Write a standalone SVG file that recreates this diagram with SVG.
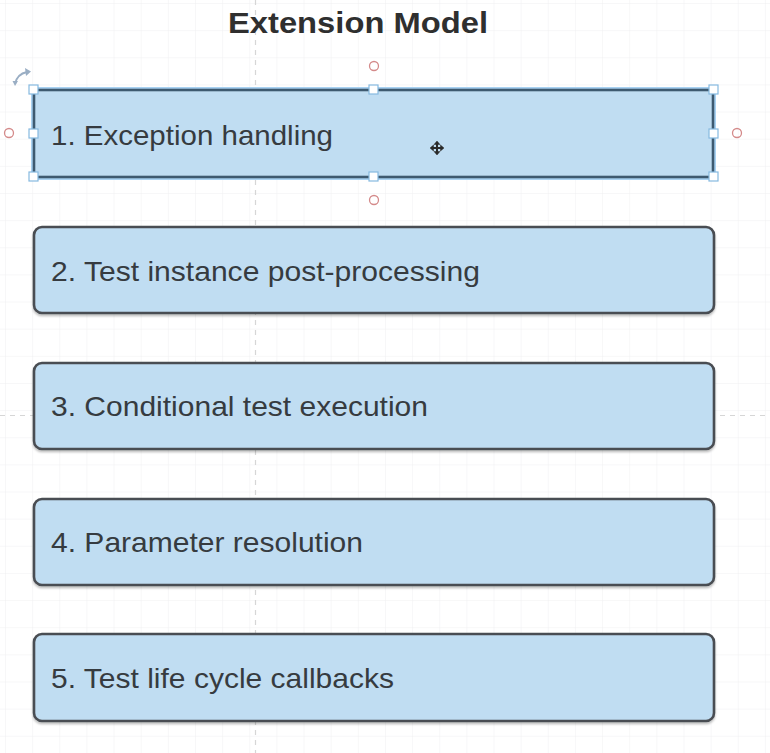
<svg xmlns="http://www.w3.org/2000/svg" width="770" height="753" viewBox="0 0 770 753">
  <style>
    .box { fill: #c0ddf2; stroke: #4a4d52; stroke-width: 2.6; filter: url(#shadow); }
    .label { font-family: "Liberation Sans", Arial, sans-serif; font-size: 28px; fill: #363b40; }
    .title { font-family: "Liberation Sans", Arial, sans-serif; font-size: 29px; font-weight: bold; fill: #2f2f2f; }
    .handle { fill: #ffffff; stroke: #86b9e0; stroke-width: 1.2; }
    .conn { fill: none; stroke: #d48a8a; stroke-width: 1.3; }
    .page { stroke: #d6d6d6; stroke-width: 1.2; stroke-dasharray: 5 5; fill: none; }
  </style>
  <defs>
    <pattern id="grid" x="5" y="3" width="27.14" height="27.14" patternUnits="userSpaceOnUse">
      <path d="M0 0 V27.14 M0 0 H27.14" fill="none" stroke="#efeff1" stroke-width="1"/>
    </pattern>
    <filter id="shadow" x="-5%" y="-10%" width="110%" height="130%">
      <feDropShadow dx="0" dy="2" stdDeviation="1.2" flood-color="#000" flood-opacity="0.25"/>
    </filter>
  </defs>

  <rect x="0" y="0" width="770" height="753" fill="#ffffff"/>
  <rect x="0" y="0" width="770" height="753" fill="url(#grid)"/>
  <path class="page" d="M255.5 0 V753"/>
  <path class="page" d="M0 415.5 H770"/>

  <g id="title">
    <text class="title" x="228" y="33" textLength="260" lengthAdjust="spacingAndGlyphs">Extension Model</text>
  </g>

  <g id="connectors"></g>

  <g id="node-2">
    <rect class="box" x="34" y="227" width="680" height="86" rx="8"/>
    <text class="label" x="51" y="281" textLength="429" lengthAdjust="spacingAndGlyphs">2. Test instance post-processing</text>
  </g>
  <g id="node-3">
    <rect class="box" x="34" y="363" width="680" height="86" rx="8"/>
    <text class="label" x="51" y="416" textLength="377" lengthAdjust="spacingAndGlyphs">3. Conditional test execution</text>
  </g>
  <g id="node-4">
    <rect class="box" x="34" y="499" width="680" height="86" rx="8"/>
    <text class="label" x="51" y="552" textLength="312" lengthAdjust="spacingAndGlyphs">4. Parameter resolution</text>
  </g>
  <g id="node-5">
    <rect class="box" x="34" y="634" width="680" height="87" rx="8"/>
    <text class="label" x="51" y="688" textLength="343" lengthAdjust="spacingAndGlyphs">5. Test life cycle callbacks</text>
  </g>

  <g id="node-1">
    <rect x="34" y="90" width="679" height="87" fill="none" stroke="#a9d2f2" stroke-width="6"/>
    <rect x="34" y="90" width="679" height="87" fill="#c0ddf2" stroke="#3e5a70" stroke-width="2.6"/>
    <text class="label" x="51" y="145" textLength="282" lengthAdjust="spacingAndGlyphs">1. Exception handling</text>
  </g>

  <g id="selection">
    <rect class="handle" x="29" y="85" width="9" height="9"/>
    <rect class="handle" x="369" y="85" width="9" height="9"/>
    <rect class="handle" x="709" y="85" width="9" height="9"/>
    <rect class="handle" x="29" y="129" width="9" height="9"/>
    <rect class="handle" x="709" y="129" width="9" height="9"/>
    <rect class="handle" x="29" y="172" width="9" height="9"/>
    <rect class="handle" x="369" y="172" width="9" height="9"/>
    <rect class="handle" x="709" y="172" width="9" height="9"/>
    <circle class="conn" cx="374" cy="66" r="4.5"/>
    <circle class="conn" cx="374" cy="200" r="4.5"/>
    <circle class="conn" cx="9" cy="133" r="4.5"/>
    <circle class="conn" cx="737" cy="133" r="4.5"/>
    <path d="M15 84 Q17 74 27 72" fill="none" stroke="#9aaec4" stroke-width="1.8"/>
    <path d="M25 68 L31 71.5 L26 76 Z" fill="#9aaec4"/>
    <path d="M12.5 81 L15 86 L18 81 Z" fill="#9aaec4"/>
    <g id="cursor" fill="#2a2a2a" stroke="#2a2a2a">
      <path d="M432 148 H442 M437 143 V153" stroke-width="2"/>
      <path d="M437 141 L434 144.5 H440 Z M437 155 L434 151.5 H440 Z M430 148 L433.5 145 V151 Z M444 148 L440.5 145 V151 Z" stroke-width="0.5"/>
    </g>
  </g>
</svg>
